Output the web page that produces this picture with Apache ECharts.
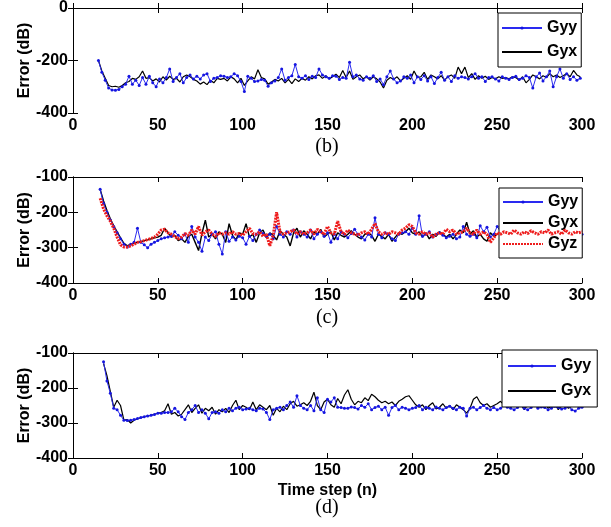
<!DOCTYPE html>
<html>
<head>
<meta charset="utf-8">
<script src="https://cdn.jsdelivr.net/npm/echarts@6/dist/echarts.min.js"></script>
<style>
  html, body { margin: 0; padding: 0; background: #fff; }
  #chart { width: 611px; height: 527px; }
</style>
</head>
<body>
<div id="chart"></div>
<script>
// time steps: each array below is sampled every 2 steps from its start step
var b_start = 15, c_start = 16, d_start = 18, step = 2;

// panel (b)
var b_gyy = [-200,-245,-275,-305,-312,-313,-310,-300,-290,-260,-290,-275,-295,-265,-290,-260,-285,-300,-270,-285,
  -265,-232,-280,-265,-250,-285,-265,-255,-270,-260,-270,-255,-250,-280,-268,-265,-258,-260,-265,-262,
  -250,-258,-280,-318,-260,-268,-280,-278,-272,-275,-298,-285,-278,-265,-232,-275,-265,-258,-215,-262,
  -268,-258,-272,-260,-265,-232,-255,-262,-268,-258,-260,-272,-265,-268,-207,-262,-255,-270,-275,-262,
  -268,-258,-280,-270,-292,-262,-240,-270,-285,-278,-262,-268,-255,-285,-262,-272,-258,-278,-262,-288,
  -265,-245,-275,-262,-280,-258,-268,-262,-265,-270,-262,-250,-268,-262,-280,-265,-262,-270,-278,-262,
  -268,-272,-265,-260,-272,-268,-258,-265,-305,-262,-248,-278,-262,-240,-300,-262,-232,-268,-250,-272,
  -262,-275,-268];
var b_gyx = [-200,-240,-268,-295,-300,-298,-302,-295,-285,-280,-268,-272,-262,-240,-268,-265,-278,-270,-282,-262,
  -275,-260,-272,-268,-282,-262,-255,-262,-272,-278,-290,-282,-292,-275,-285,-268,-272,-268,-278,-262,
  -270,-285,-268,-295,-278,-262,-270,-235,-265,-270,-290,-282,-272,-278,-268,-285,-272,-288,-270,-280,
  -268,-275,-262,-270,-258,-255,-268,-258,-270,-262,-252,-265,-238,-265,-240,-272,-262,-255,-270,-262,
  -275,-262,-270,-282,-305,-275,-265,-272,-262,-278,-268,-258,-272,-240,-265,-262,-245,-272,-255,-262,
  -270,-258,-275,-262,-255,-268,-225,-250,-225,-265,-250,-272,-258,-268,-260,-272,-265,-270,-262,-268,
  -265,-270,-262,-265,-275,-262,-285,-272,-255,-262,-270,-258,-265,-250,-262,-255,-265,-258,-250,-262,
  -238,-255,-262];

// panel (c)
var c_gyy = [-135,-175,-200,-222,-240,-258,-275,-290,-298,-290,-285,-245,-285,-292,-300,-290,-285,-280,-275,-272,
  -270,-268,-255,-265,-275,-262,-285,-240,-270,-285,-310,-270,-280,-262,-255,-290,-318,-255,-282,-270,
  -278,-268,-272,-290,-268,-280,-262,-250,-260,-268,-262,-275,-240,-262,-270,-255,-262,-250,-270,-255,
  -262,-270,-250,-275,-262,-255,-268,-258,-285,-262,-275,-255,-262,-272,-260,-248,-262,-270,-278,-262,
  -270,-215,-262,-272,-258,-262,-275,-280,-262,-258,-255,-262,-245,-262,-210,-268,-262,-255,-270,-262,
  -258,-265,-272,-268,-262,-275,-270,-240,-262,-268,-262,-272,-238,-255,-242,-270,-262,-240,-255,-262,
  -270,-248,-262,-270,-262,-258,-275,-262,-265,-270,-255,-262,-270,-258,-262,-250,-265,-272,-258,-262,
  -255,-268,-262];
var c_gyx = [-135,-168,-195,-218,-238,-255,-272,-288,-295,-290,-288,-285,-283,-280,-278,-275,-272,-270,-265,-245,
  -258,-270,-265,-280,-275,-285,-268,-262,-285,-308,-260,-222,-270,-262,-275,-255,-262,-285,-232,-265,
  -278,-258,-262,-232,-270,-262,-285,-258,-250,-272,-258,-265,-278,-252,-262,-270,-295,-258,-245,-270,
  -252,-262,-275,-255,-262,-248,-270,-262,-255,-278,-258,-265,-270,-262,-252,-262,-270,-275,-262,-258,
  -265,-282,-262,-268,-275,-262,-282,-270,-258,-262,-255,-245,-258,-262,-255,-270,-258,-275,-262,-268,
  -255,-262,-270,-262,-275,-262,-250,-258,-228,-262,-252,-270,-262,-275,-282,-258,-268,-262,-255,-268,
  -262,-258,-270,-262,-265,-255,-268,-262,-258,-270,-262,-255,-265,-262,-258,-270,-262,-255,-262,-268,
  -258,-262,-260];
var c_gyz = [-160,-190,-210,-225,-245,-270,-292,-298,-298,-295,-290,-285,-283,-280,-277,-274,-270,-262,-250,-248,
  -258,-262,-268,-275,-270,-260,-265,-250,-262,-240,-265,-255,-250,-262,-268,-258,-262,-258,-262,-255,
  -262,-260,-265,-255,-245,-260,-262,-255,-268,-262,-295,-265,-200,-255,-262,-258,-255,-250,-262,-255,
  -262,-258,-250,-262,-248,-255,-262,-240,-258,-262,-225,-255,-262,-250,-258,-262,-265,-258,-255,-262,
  -248,-232,-255,-262,-258,-262,-255,-258,-262,-250,-245,-235,-240,-258,-262,-255,-262,-258,-270,-262,
  -258,-262,-248,-255,-250,-262,-258,-255,-245,-258,-262,-250,-262,-255,-262,-285,-272,-258,-262,-255,
  -258,-262,-250,-258,-262,-255,-260,-252,-258,-262,-255,-258,-250,-262,-258,-255,-262,-250,-258,-262,
  -255,-258,-255];

// panel (d)
var d_gyy = [-125,-180,-215,-258,-262,-278,-292,-293,-292,-290,-287,-284,-282,-280,-278,-276,-272,-272,-270,-270,
  -268,-258,-268,-282,-290,-270,-262,-250,-270,-262,-272,-288,-270,-268,-272,-262,-268,-258,-265,-258,
  -255,-262,-260,-258,-262,-265,-258,-260,-270,-290,-262,-258,-255,-262,-250,-240,-255,-222,-250,-258,
  -262,-250,-265,-228,-262,-270,-232,-240,-228,-255,-256,-258,-258,-254,-256,-260,-250,-255,-245,-262,
  -256,-252,-262,-255,-278,-256,-250,-262,-255,-258,-262,-258,-256,-250,-262,-255,-258,-262,-254,-258,
  -262,-256,-252,-258,-262,-255,-258,-280,-258,-255,-262,-256,-250,-258,-262,-256,-262,-258,-250,-255,
  -258,-262,-256,-250,-258,-262,-256,-250,-258,-254,-256,-262,-258,-252,-256,-260,-258,-252,-262,-266,
  -258,-255];
var d_gyx = [-130,-165,-210,-255,-235,-250,-292,-290,-300,-292,-288,-285,-282,-280,-278,-275,-272,-270,-265,-245,
  -275,-270,-280,-275,-262,-248,-270,-258,-248,-272,-258,-265,-255,-275,-262,-268,-258,-270,-250,-235,
  -262,-250,-255,-262,-240,-262,-248,-255,-262,-250,-278,-258,-268,-252,-262,-245,-238,-252,-248,-242,
  -250,-238,-212,-250,-262,-240,-232,-248,-255,-230,-245,-220,-205,-232,-248,-238,-242,-228,-236,-218,
  -225,-235,-242,-238,-245,-240,-250,-238,-232,-225,-222,-235,-248,-255,-248,-262,-250,-242,-260,-255,
  -245,-258,-250,-262,-248,-255,-262,-272,-258,-232,-225,-242,-250,-245,-255,-250,-245,-238,-248,-242,
  -250,-245,-240,-248,-262,-248,-240,-245,-255,-250,-242,-258,-252,-245,-262,-250,-245,-258,-252,-245,
  -250,-252];

var x_ticks = [0, 50, 100, 150, 200, 250, 300];
var panel_labels = ['(b)', '(c)', '(d)'];

function toPairs(start, ys) {
  return ys.map(function (v, i) { return [start + i * step, v]; });
}

var chart = echarts.init(document.getElementById('chart'), null, { renderer: 'canvas' });

var font = 'Liberation Sans';
var grids = [
  { left: 73, top: 8, width: 509, height: 105 },
  { left: 73, top: 177, width: 509, height: 106 },
  { left: 73, top: 353, width: 509, height: 105 }
];
var yRanges = [[-400, 0, 200], [-400, -100, 100], [-400, -100, 100]];

var xAxes = [], yAxes = [];
grids.forEach(function (g, i) {
  xAxes.push({
    gridIndex: i, type: 'value', min: 0, max: 300, interval: 50, position: 'bottom',
    axisLine: { lineStyle: { color: '#000', width: 1 } },
    axisTick: { inside: true, length: 5, lineStyle: { color: '#000' } },
    axisLabel: { color: '#000', fontFamily: font, fontWeight: 'bold', fontSize: 16, margin: 5 },
    splitLine: { show: false },
    name: i === 2 ? 'Time step (n)' : '', nameLocation: 'middle', nameGap: 25,
    nameTextStyle: { color: '#000', fontFamily: font, fontWeight: 'bold', fontSize: 16 }
  });
  xAxes.push({
    gridIndex: i, type: 'value', min: 0, max: 300, interval: 50, position: 'top',
    axisLine: { lineStyle: { color: '#000', width: 1 } },
    axisTick: { inside: true, length: 5, lineStyle: { color: '#000' } },
    axisLabel: { show: false }, splitLine: { show: false }
  });
  var r = yRanges[i];
  yAxes.push({
    gridIndex: i, type: 'value', min: r[0], max: r[1], interval: r[2], position: 'left',
    axisLine: { show: true, lineStyle: { color: '#000', width: 1 } },
    axisTick: { show: true, inside: true, length: 5, lineStyle: { color: '#000' } },
    axisLabel: { color: '#000', fontFamily: font, fontWeight: 'bold', fontSize: 16, margin: 5 },
    splitLine: { show: false },
    name: 'Error (dB)', nameLocation: 'middle', nameGap: 40, nameRotate: 90, nameMoveOverlap: false,
    nameTextStyle: { color: '#000', fontFamily: font, fontWeight: 'bold', fontSize: 16 }
  });
  yAxes.push({
    gridIndex: i, type: 'value', min: r[0], max: r[1], interval: r[2], position: 'right',
    axisLine: { show: true, lineStyle: { color: '#000', width: 1 } },
    axisTick: { show: true, inside: true, length: 5, lineStyle: { color: '#000' } },
    axisLabel: { show: false }, splitLine: { show: false }
  });
});

function gyySeries(idx, data) {
  return {
    name: 'Gyy', type: 'line', xAxisIndex: idx * 2, yAxisIndex: idx * 2, data: data,
    symbol: 'circle', symbolSize: 3, showSymbol: true, z: 3,
    lineStyle: { color: '#2a2af0', width: 1 }, itemStyle: { color: '#1515e0' }
  };
}
function gyxSeries(idx, data, w) {
  return {
    name: 'Gyx', type: 'line', xAxisIndex: idx * 2, yAxisIndex: idx * 2, data: data,
    symbol: 'none', z: 2,
    lineStyle: { color: '#000', width: w }, itemStyle: { color: '#000' }
  };
}

var series = [
  gyySeries(0, toPairs(b_start, b_gyy)),
  gyxSeries(0, toPairs(b_start, b_gyx), 1.2),
  gyySeries(1, toPairs(c_start, c_gyy)),
  gyxSeries(1, toPairs(c_start, c_gyx), 1.4),
  {
    name: 'Gyz', type: 'line', xAxisIndex: 2, yAxisIndex: 2, data: toPairs(c_start, c_gyz),
    symbol: 'none', z: 4,
    lineStyle: { color: '#ee1c1c', width: 3, type: [2, 1] }, itemStyle: { color: '#ee1c1c' }
  },
  gyySeries(2, toPairs(d_start, d_gyy)),
  gyxSeries(2, toPairs(d_start, d_gyx), 1.2)
];

// legend entries: small dot for Gyy, bare lines for Gyx / Gyz
var legendItems = {
  Gyy: { name: 'Gyy', itemStyle: { opacity: 1 } },
  Gyx: { name: 'Gyx', itemStyle: { opacity: 0 } },
  Gyz: { name: 'Gyz', itemStyle: { opacity: 0 } }
};
function legendData(names) { return names.map(function (n) { return legendItems[n]; }); }

var legendBase = {
  orient: 'vertical', backgroundColor: '#fff', borderColor: '#000', borderWidth: 1,
  borderRadius: 0, itemWidth: 40, itemHeight: 4, selectedMode: false,
  textStyle: { color: '#000', fontFamily: font, fontWeight: 'bold', fontSize: 16 }
};
var legends = [
  Object.assign({}, legendBase, { left: 498, top: 13, padding: [7, 4, 7, 3], itemGap: 8, data: legendData(['Gyy', 'Gyx']) }),
  Object.assign({}, legendBase, { left: 499, top: 188, padding: [6, 4, 6, 3], itemGap: 5, data: legendData(['Gyy', 'Gyx', 'Gyz']) }),
  Object.assign({}, legendBase, { left: 502, top: 350, padding: [8, 6, 8, 5], itemWidth: 48, itemGap: 9, data: legendData(['Gyy', 'Gyx']) })
];

var labelPos = [147, 318, 508];
var graphics = panel_labels.map(function (t, i) {
  return {
    type: 'text', x: 327, y: labelPos[i],
    style: { text: t, fill: '#000', font: '20px "Liberation Serif"', textAlign: 'center', textVerticalAlign: 'middle' }
  };
});

chart.setOption({
  animation: false,
  backgroundColor: '#fff',
  grid: grids,
  xAxis: xAxes,
  yAxis: yAxes,
  legend: legends,
  graphic: graphics,
  series: series
});
</script>
</body>
</html>
